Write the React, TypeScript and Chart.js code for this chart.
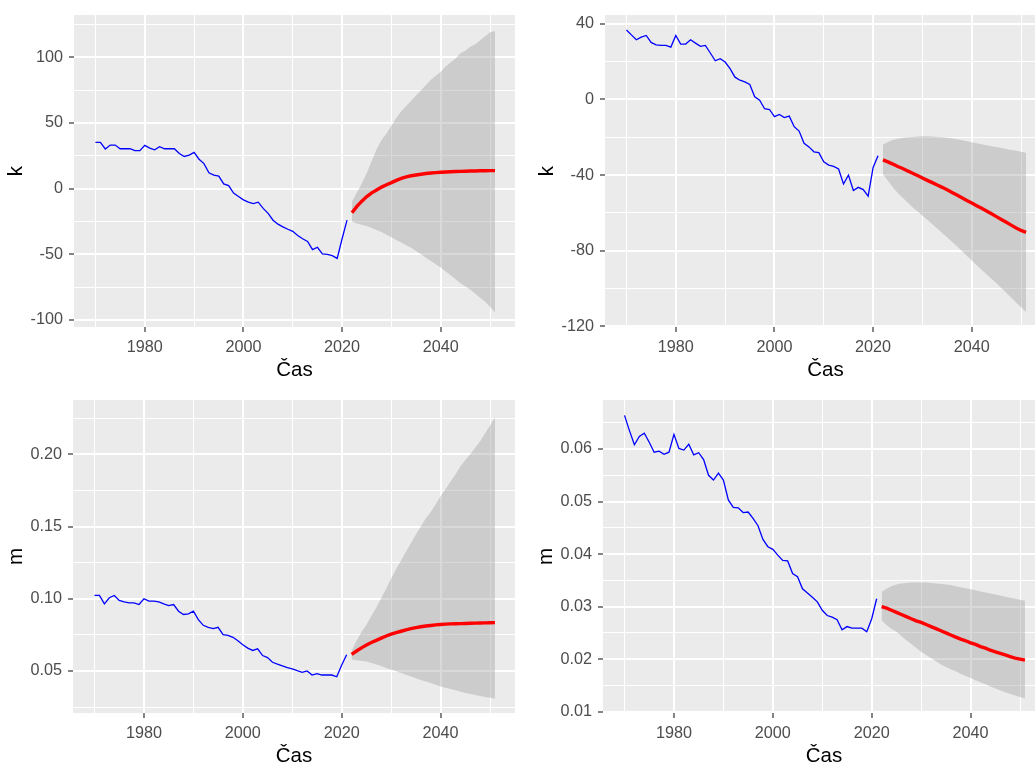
import React, { useEffect, useRef } from 'react';
import { Chart, registerables } from 'chart.js';

Chart.register(...registerables);

const FONT = '"Liberation Sans", Arial, Helvetica, sans-serif';

// Categories (years)
const histYears: number[] = Array.from({ length: 52 }, (_, i) => 1970 + i);
const fcYears: number[] = Array.from({ length: 30 }, (_, i) => 2022 + i);

const xMajorStep = 20;
const xMinorStep = 10;

// Panel 1 (k, top-left)
const k1Hist = [35.3, 35.3, 30.2, 33.2, 33.2, 30.4, 30.4, 30.4, 28.9, 28.9,
  33.0, 30.9, 29.6, 32.0, 30.4, 30.4, 30.4, 26.8, 24.5, 25.5,
  27.6, 22.4, 19.1, 12.1, 10.3, 9.5, 3.6, 2.3, -3.4, -5.9,
  -8.5, -10.3, -11.3, -10.3, -15.0, -18.8, -24.0, -27.0, -29.1, -30.9,
  -32.5, -35.6, -38.1, -40.2, -46.4, -44.6, -49.7, -50.0, -51.0, -53.1,
  -38.1, -24.0];
const k1Fc = [-18.4, -13.5, -9.5, -6.0, -3.2, -1.0, 1.2, 3.0, 4.6, 6.3,
  7.8, 9.0, 9.8, 10.4, 11.0, 11.5, 11.9, 12.2, 12.5, 12.7,
  12.9, 13.1, 13.2, 13.3, 13.4, 13.5, 13.6, 13.6, 13.7, 13.7];
const k1Up = [-10, -3, 4, 12, 21, 30, 37, 42, 48, 54,
  59, 63, 67, 71, 75, 79, 83, 86, 89, 93,
  96, 99, 103, 105, 108, 110, 113, 116, 119, 120];
const k1Lo = [-25, -26.5, -27.5, -28.5, -30, -31.5, -33, -35, -37, -39,
  -41, -43, -45, -47.5, -50, -52.5, -55, -57.5, -60, -63,
  -66, -69, -72, -74.5, -77, -80, -83, -86, -90, -94];

// Panel 2 (k, top-right)
const k2Hist = [36.8, 34.2, 31.6, 33.0, 33.9, 30.2, 28.9, 28.6, 28.6, 27.7,
  33.9, 29.3, 29.3, 31.6, 29.8, 28.1, 28.6, 24.6, 20.5, 21.6,
  19.8, 16.3, 11.8, 10.2, 9.3, 7.9, 1.4, -0.4, -4.9, -5.3,
  -9.1, -7.9, -9.6, -8.8, -14.4, -16.7, -23.2, -25.1, -27.7, -28.1,
  -33.0, -34.7, -35.4, -36.8, -44.7, -40.0, -48.2, -46.5, -47.7, -51.2,
  -36.0, -29.8];
const k2Fc = [-32, -33, -34.2, -35.5, -36.5, -37.8, -39, -40.2, -41.5, -42.8,
  -44, -45.3, -46.5, -47.8, -49.2, -50.6, -52, -53.4, -54.8, -56.2,
  -57.6, -59, -60.5, -62, -63.5, -65, -66.5, -68, -69.3, -70.3];
const k2Up = [-24, -22.5, -21.5, -20.8, -20.3, -20, -19.8, -19.6, -19.5, -19.5,
  -19.6, -19.8, -20, -20.3, -20.7, -21.1, -21.6, -22.1, -22.7, -23.2,
  -23.7, -24.2, -24.7, -25.2, -25.7, -26.2, -26.7, -27.2, -27.7, -28.2];
const k2Lo = [-39.5, -43, -46.5, -49.5, -52, -54.5, -57, -59.3, -61.5, -63.7,
  -66, -68.3, -70.6, -72.9, -75.3, -77.7, -80.2, -82.7, -85.2, -87.7,
  -90.1, -92.5, -94.9, -97.3, -99.8, -102.3, -104.9, -107.4, -110, -112.5];

// Panel 3 (m, bottom-left)
const m1Hist = [0.1023, 0.1023, 0.0965, 0.1007, 0.1023, 0.0988, 0.0979, 0.0972, 0.0972, 0.096,
  0.1, 0.0984, 0.0984, 0.0979, 0.0965, 0.0953, 0.096, 0.0914, 0.0891, 0.0895,
  0.0914, 0.0856, 0.0816, 0.0802, 0.0793, 0.0802, 0.0751, 0.0747, 0.0733, 0.0709,
  0.0681, 0.0658, 0.0642, 0.0653, 0.0607, 0.0593, 0.056, 0.0547, 0.0535, 0.0523,
  0.0514, 0.0502, 0.0491, 0.05, 0.0472, 0.0481, 0.0472, 0.0472, 0.0472, 0.046,
  0.0542, 0.0612];
const m1Fc = [0.0615, 0.0638, 0.066, 0.068, 0.0697, 0.0712, 0.0727, 0.0742, 0.0755, 0.0765,
  0.0775, 0.0785, 0.0793, 0.08, 0.0806, 0.0811, 0.0815, 0.0819, 0.0822, 0.0824,
  0.0826, 0.0827, 0.0828, 0.0829, 0.083, 0.0831, 0.0832, 0.0833, 0.0834, 0.0835];
const m1Up = [0.064, 0.071, 0.077, 0.082, 0.088, 0.094, 0.1005, 0.107, 0.114, 0.1205,
  0.1265, 0.1325, 0.1385, 0.1445, 0.15, 0.1555, 0.16, 0.1655, 0.171, 0.176,
  0.181, 0.186, 0.1915, 0.196, 0.2, 0.2045, 0.209, 0.2145, 0.22, 0.2255];
const m1Lo = [0.058, 0.0575, 0.057, 0.0565, 0.0555, 0.0545, 0.0535, 0.052, 0.051, 0.0498,
  0.0486, 0.0474, 0.0462, 0.045, 0.0438, 0.0427, 0.0416, 0.0404, 0.0393, 0.0384,
  0.0375, 0.0366, 0.0357, 0.0348, 0.0341, 0.0334, 0.0327, 0.032, 0.0314, 0.0308];

// Panel 4 (m, bottom-right)
const m2Hist = [0.0664, 0.0635, 0.0608, 0.0624, 0.063, 0.0613, 0.0594, 0.0596, 0.059, 0.0594,
  0.0628, 0.0601, 0.0598, 0.0609, 0.0589, 0.0593, 0.058, 0.055, 0.0541, 0.0554,
  0.0541, 0.0503, 0.0489, 0.0488, 0.0479, 0.048, 0.0468, 0.0454, 0.0428, 0.0414,
  0.0409, 0.0398, 0.0388, 0.0387, 0.0363, 0.0357, 0.0334, 0.0326, 0.0318, 0.0309,
  0.0293, 0.0283, 0.028, 0.0275, 0.0256, 0.0262, 0.0259, 0.0259, 0.0259, 0.0252,
  0.0277, 0.0315];
const m2Fc = [0.03, 0.0297, 0.0293, 0.0289, 0.0285, 0.0281, 0.0277, 0.0273, 0.027, 0.0266,
  0.0262, 0.0258, 0.0254, 0.025, 0.0246, 0.0242, 0.0238, 0.0235, 0.0231, 0.0228,
  0.0224, 0.0221, 0.0217, 0.0214, 0.0211, 0.0208, 0.0205, 0.0202, 0.02, 0.0198];
const m2Up = [0.0328, 0.0334, 0.0339, 0.0342, 0.0344, 0.0345, 0.0346, 0.0346, 0.0346, 0.0346,
  0.0345, 0.0344, 0.0343, 0.0342, 0.0341, 0.0339, 0.0337, 0.0335, 0.0333, 0.0331,
  0.0329, 0.0327, 0.0325, 0.0323, 0.0321, 0.0319, 0.0317, 0.0315, 0.0313, 0.0311];
const m2Lo = [0.0274, 0.0265, 0.0258, 0.0252, 0.0244, 0.0236, 0.0229, 0.0221, 0.0214, 0.0208,
  0.0202, 0.0196, 0.019, 0.0185, 0.0181, 0.0177, 0.0172, 0.0168, 0.0164, 0.016,
  0.0156, 0.0152, 0.0148, 0.0144, 0.0141, 0.0137, 0.0134, 0.0131, 0.0128, 0.0125];

const panelBg = {
  id: 'panelBg',
  beforeDraw(chart: any) {
    const { ctx, chartArea: a } = chart;
    ctx.save();
    ctx.fillStyle = '#EBEBEB';
    ctx.fillRect(a.left, a.top, a.right - a.left, a.bottom - a.top);
    ctx.restore();
  },
};

type PanelProps = {
  left: number; top: number; width: number; height: number;
  yAxisWidth: number; xAxisHeight: number;
  yTitle: string;
  hist: number[]; fc: number[]; up: number[]; lo: number[];
  xMin: number; xMax: number;
  yMin: number; yMax: number; yMinorStep: number; yMajorStep: number; yDigits: number;
};

function Panel(p: PanelProps) {
  const ref = useRef<HTMLCanvasElement | null>(null);
  useEffect(() => {
    if (!ref.current) return;
    const pts = (xs: number[], ys: number[]) => ys.map((y, i) => ({ x: xs[i], y }));
    const tickFont = { family: FONT, size: 16.2 };
    const titleFont = { family: FONT, size: 20.5 };
    const lineDefaults = { pointRadius: 0, tension: 0, xAxisID: 'x', yAxisID: 'y' };
    const chart = new Chart(ref.current, {
      type: 'line',
      data: {
        datasets: [
          { ...lineDefaults, data: pts(fcYears, p.fc), borderColor: '#FF0000', borderWidth: 3.4, fill: false },
          { ...lineDefaults, data: pts(histYears, p.hist), borderColor: '#0000FF', borderWidth: 1.3, fill: false },
          { ...lineDefaults, data: pts(fcYears, p.up), borderColor: 'rgba(0,0,0,0)', borderWidth: 0, backgroundColor: 'rgba(146,146,146,0.35)', fill: '+1' },
          { ...lineDefaults, data: pts(fcYears, p.lo), borderColor: 'rgba(0,0,0,0)', borderWidth: 0, fill: false },
        ],
      },
      options: {
        responsive: false,
        animation: false,
        devicePixelRatio: 1,
        events: [],
        layout: { padding: { top: 15, right: 2, left: 0, bottom: 0 } },
        plugins: {
          legend: { display: false },
          tooltip: { enabled: false },
          filler: { propagate: false },
        },
        scales: {
          // minor grid (x)
          xm: {
            type: 'linear', position: 'bottom',
            min: p.xMin, max: p.xMax,
            afterBuildTicks: (s: any) => { s.min = p.xMin; s.max = p.xMax; },
            afterFit: (s: any) => { s.height = 0; s.paddingLeft = 0; s.paddingRight = 0; },
            border: { display: false },
            grid: { color: '#FFFFFF', lineWidth: 1, drawTicks: false },
            ticks: { display: false, stepSize: xMinorStep, includeBounds: false, autoSkip: false },
            title: { display: false },
          },
          // minor grid (y)
          ym: {
            type: 'linear', position: 'left',
            min: p.yMin, max: p.yMax,
            afterBuildTicks: (s: any) => { s.min = p.yMin; s.max = p.yMax; },
            afterFit: (s: any) => { s.width = 0; s.paddingTop = 0; s.paddingBottom = 0; },
            border: { display: false },
            grid: { color: '#FFFFFF', lineWidth: 1, drawTicks: false },
            ticks: { display: false, stepSize: p.yMinorStep, includeBounds: false, autoSkip: false },
            title: { display: false },
          },
          x: {
            type: 'linear', position: 'bottom',
            min: p.xMin, max: p.xMax,
            afterBuildTicks: (s: any) => { s.min = p.xMin; s.max = p.xMax; },
            afterFit: (s: any) => { s.height = p.xAxisHeight; s.paddingLeft = 0; s.paddingRight = 0; },
            border: { display: false },
            grid: { color: '#FFFFFF', lineWidth: 2, drawTicks: true, tickLength: 5, tickWidth: 1.2, tickColor: '#333333' },
            ticks: {
              stepSize: xMajorStep, includeBounds: false, autoSkip: false,
              maxRotation: 0, minRotation: 0, padding: 6,
              color: '#4D4D4D', font: tickFont,
              callback: (v: any) => String(Math.round(Number(v))),
            },
            title: { display: true, text: 'Čas', color: '#000000', font: titleFont, padding: { top: 0, bottom: 2 } },
          },
          y: {
            type: 'linear', position: 'left',
            min: p.yMin, max: p.yMax,
            afterBuildTicks: (s: any) => { s.min = p.yMin; s.max = p.yMax; },
            afterFit: (s: any) => { s.width = p.yAxisWidth; s.paddingTop = 0; s.paddingBottom = 0; },
            border: { display: false },
            grid: { color: '#FFFFFF', lineWidth: 2, drawTicks: true, tickLength: 5, tickWidth: 1.2, tickColor: '#333333' },
            ticks: {
              stepSize: p.yMajorStep, includeBounds: false, autoSkip: false, padding: 6,
              color: '#4D4D4D', font: tickFont,
              callback: (v: any) => {
                const n = Number(v);
                return p.yDigits > 0 ? n.toFixed(p.yDigits) : String(Math.round(n));
              },
            },
            title: { display: true, text: p.yTitle, color: '#000000', font: titleFont, padding: { top: 4, bottom: 0 } },
          },
        },
      },
      plugins: [panelBg],
    } as any);
    return () => chart.destroy();
  }, []);
  return (
    <div style={{ position: 'absolute', left: p.left, top: p.top, width: p.width, height: p.height }}>
      <canvas ref={ref} width={p.width} height={p.height} style={{ display: 'block', width: p.width, height: p.height }} />
    </div>
  );
}

export default function App() {
  const xMin = 1965.65;
  const xMax = 2055.05;
  return (
    <div style={{ position: 'fixed', left: 0, top: 0, width: 1035, height: 765, overflow: 'hidden', background: '#FFFFFF' }}>
      <Panel left={0} top={0} width={517} height={385} yAxisWidth={74} xAxisHeight={58} yTitle="k"
        hist={k1Hist} fc={k1Fc} up={k1Up} lo={k1Lo} xMin={xMin} xMax={xMax}
        yMin={-105.3} yMax={132.2} yMinorStep={25} yMajorStep={50} yDigits={0} />
      <Panel left={531} top={0} width={517} height={385} yAxisWidth={74} xAxisHeight={58} yTitle="k"
        hist={k2Hist} fc={k2Fc} up={k2Up} lo={k2Lo} xMin={xMin} xMax={xMax}
        yMin={-120.4} yMax={44.7} yMinorStep={20} yMajorStep={40} yDigits={0} />
      <Panel left={0} top={385} width={517} height={386} yAxisWidth={73} xAxisHeight={58} yTitle="m"
        hist={m1Hist} fc={m1Fc} up={m1Up} lo={m1Lo} xMin={xMin} xMax={xMax}
        yMin={0.0209} yMax={0.2376} yMinorStep={0.025} yMajorStep={0.05} yDigits={2} />
      <Panel left={530} top={385} width={517} height={386} yAxisWidth={73} xAxisHeight={58} yTitle="m"
        hist={m2Hist} fc={m2Fc} up={m2Up} lo={m2Lo} xMin={xMin} xMax={xMax}
        yMin={0.00975} yMax={0.06933} yMinorStep={0.005} yMajorStep={0.01} yDigits={2} />
    </div>
  );
}
